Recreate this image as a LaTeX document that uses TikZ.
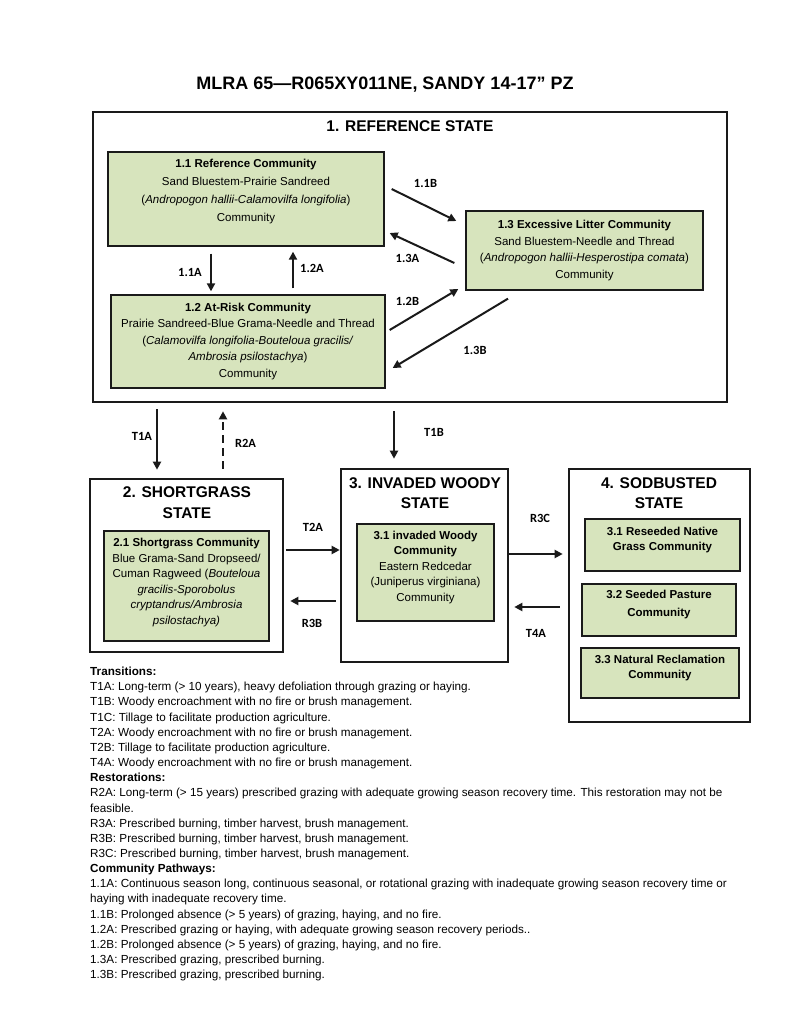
\documentclass[tikz,border=0pt]{standalone}
\usepackage{fontspec}
\setmainfont{Liberation Sans}
\newfontfamily\lblfont{Carlito}
\usetikzlibrary{positioning, arrows.meta}
\definecolor{commgreen}{HTML}{D7E4BD}
\definecolor{linegray}{HTML}{1A1A1A}

\begin{document}
\begin{tikzpicture}[x=1pt, y=-1pt,
        statebox/.style={draw=linegray, line width=2.6pt},
        statetitle/.style={align=center, font=\fontsize{15.5}{20.5}\selectfont\bfseries},
        commbox/.style={draw=linegray, line width=1.3pt, fill=commgreen, align=center, inner sep=2pt, font=\fontsize{11.5}{16.5}\selectfont},
        seedbox/.style={commbox, font=\fontsize{11.5}{15}\selectfont\bfseries},
        arr/.style={-{Triangle[length=8pt,width=8pt]}, line width=2pt, draw=linegray},
        lbl/.style={font=\lblfont\bfseries\fontsize{12.5}{14}\selectfont, inner sep=0pt}
    ]
      \useasboundingbox (0,0) rectangle (800,1035);

      \node[font=\fontsize{18}{22}\selectfont\bfseries] (title) at (385,85) {MLRA 65—R065XY011NE, SANDY 14-17” PZ};

      \node[statebox, minimum width=634, minimum height=290] (refstate) at (410,257) {};
      \node[statetitle] (reftitle) at (410,126) {1. REFERENCE STATE};
      \node[commbox, minimum width=276, minimum height=94, font=\fontsize{11.5}{18}\selectfont] (c11) at (246,199)
           {\textbf{1.1 Reference Community}\\Sand Bluestem-Prairie Sandreed\\(\textit{Andropogon hallii-Calamovilfa longifolia})\\Community\\};
      \node[commbox, minimum width=274, minimum height=93] (c12) at (248,341.5)
           {\textbf{1.2 At-Risk Community}\\Prairie Sandreed-Blue Grama-Needle and Thread\\(\textit{Calamovilfa longifolia-Bouteloua gracilis/}\\\textit{Ambrosia psilostachya})\\Community};
      \node[commbox, minimum width=237, minimum height=79] (c13) at (584.5,250.5)
           {\textbf{1.3 Excessive Litter Community}\\Sand Bluestem-Needle and Thread\\(\textit{Andropogon hallii-Hesperostipa comata})\\Community};

      \node[statebox, minimum width=193, minimum height=173] (shortgrass) at (186.5,565.5) {};
      \node[statetitle] (sgtitle) at (187,502.5) {2. SHORTGRASS\\STATE};
      \node[commbox, minimum width=165, minimum height=110, font=\fontsize{11.5}{15.5}\selectfont] (c21) at (186.5,586)
           {\textbf{2.1 Shortgrass Community}\\Blue Grama-Sand Dropseed/\\Cuman Ragweed (\textit{Bouteloua}\\\textit{gracilis-Sporobolus}\\\textit{cryptandrus/Ambrosia}\\\textit{psilostachya)}\\[-6pt]};

      \node[statebox, minimum width=167, minimum height=193] (woody) at (424.5,565.5) {};
      \node[statetitle] (wdtitle) at (425,493) {3. INVADED WOODY\\STATE};
      \node[commbox, minimum width=137, minimum height=97, font=\fontsize{11.5}{15.5}\selectfont] (c31) at (425.5,572.5)
           {\textbf{3.1 invaded Woody}\\\textbf{Community}\\Eastern Redcedar\\(Juniperus virginiana)\\Community\\[-3pt]};

      \node[statebox, minimum width=181, minimum height=253] (sodbusted) at (659.5,595.5) {};
      \node[statetitle] (sbtitle) at (659,493) {4. SODBUSTED\\STATE};
      \node[seedbox, minimum width=155, minimum height=52] (c41) at (662.5,545) {3.1 Reseeded Native\\Grass Community\\[-2pt]};
      \node[seedbox, minimum width=154, minimum height=52] (c42) at (659,610) {3.2 Seeded Pasture\\[3pt]Community\\[-2pt]};
      \node[seedbox, minimum width=158, minimum height=50] (c43) at (660,673) {3.3 Natural Reclamation\\Community\\[-2pt]};

      \draw[arr] ([shift={(-35,7)}]c11.south) -- ([shift={(-37,-3)}]c12.north);
      \draw[arr] ([shift={(45,-6)}]c12.north) -- ([shift={(47,5)}]c11.south);
      \draw[arr] ([shift={(7,-10)}]c11.east) -- ([shift={(-9,-29.5)}]c13.west);
      \draw[arr] ([shift={(-11,12.5)}]c13.west) -- ([shift={(5,34)}]c11.east);
      \draw[arr] ([shift={(4,-11.5)}]c12.east) -- ([shift={(-7,38.5)}]c13.west);
      \draw[arr] ([shift={(-76.5,8)}]c13.south) -- ([shift={(7,26.5)}]c12.east);

      \draw[arr] ([shift={(-253,6)}]refstate.south) -- ([shift={(-29.5,-8)}]shortgrass.north);
      \draw[arr, dash pattern=on 8pt off 5pt] ([shift={(36.5,-9)}]shortgrass.north) -- ([shift={(-187,8)}]refstate.south);
      \draw[arr] ([shift={(-16,8)}]refstate.south) -- ([shift={(-30.5,-9)}]woody.north);
      \draw[arr] ([shift={(2,-15.5)}]shortgrass.east) -- ([shift={(0,-15.5)}]woody.west);
      \draw[arr] ([shift={(-4,35.5)}]woody.west) -- ([shift={(6,35.5)}]shortgrass.east);
      \draw[arr] ([shift={(0,-11.5)}]woody.east) -- ([shift={(-5,-41.5)}]sodbusted.west);
      \draw[arr] ([shift={(-8,11.5)}]sodbusted.west) -- ([shift={(5,41.5)}]woody.east);

      \node[lbl] (l11B) at (425.5,183) {1.1B};
      \node[lbl] (l13A) at (407.5,258) {1.3A};
      \node[lbl] (l12B) at (407.5,301) {1.2B};
      \node[lbl] (l13B) at (475,350) {1.3B};
      \node[lbl] (l11A) at (190,272) {1.1A};
      \node[lbl] (l12A) at (312,268) {1.2A};
      \node[lbl] (lT1A) at (142,436) {T1A};
      \node[lbl] (lR2A) at (245.5,443) {R2A};
      \node[lbl] (lT1B) at (434,432) {T1B};
      \node[lbl] (lT2A) at (313,527) {T2A};
      \node[lbl] (lR3B) at (312,623) {R3B};
      \node[lbl] (lR3C) at (540,518) {R3C};
      \node[lbl] (lT4A) at (536,633) {T4A};

      \node[anchor=north west, align=left, inner sep=0pt, font=\fontsize{11.7}{15.15}\selectfont] (notes) at (90,667)
           {\textbf{Transitions:}\\
            T1A: Long-term (> 10 years), heavy defoliation through grazing or haying.\\
            T1B: Woody encroachment with no fire or brush management.\\
            T1C: Tillage to facilitate production agriculture.\\
            T2A: Woody encroachment with no fire or brush management.\\
            T2B: Tillage to facilitate production agriculture.\\
            T4A: Woody encroachment with no fire or brush management.\\
            \textbf{Restorations:}\\
            R2A: Long-term (> 15 years) prescribed grazing with adequate growing season recovery time. This restoration may not be\\
            feasible.\\
            R3A: Prescribed burning, timber harvest, brush management.\\
            R3B: Prescribed burning, timber harvest, brush management.\\
            R3C: Prescribed burning, timber harvest, brush management.\\
            \textbf{Community Pathways:}\\
            1.1A: Continuous season long, continuous seasonal, or rotational grazing with inadequate growing season recovery time or\\
            haying with inadequate recovery time.\\
            1.1B: Prolonged absence (> 5 years) of grazing, haying, and no fire.\\
            1.2A: Prescribed grazing or haying, with adequate growing season recovery periods..\\
            1.2B: Prolonged absence (> 5 years) of grazing, haying, and no fire.\\
            1.3A: Prescribed grazing, prescribed burning.\\
            1.3B: Prescribed grazing, prescribed burning.};
    \end{tikzpicture}
\end{document}
